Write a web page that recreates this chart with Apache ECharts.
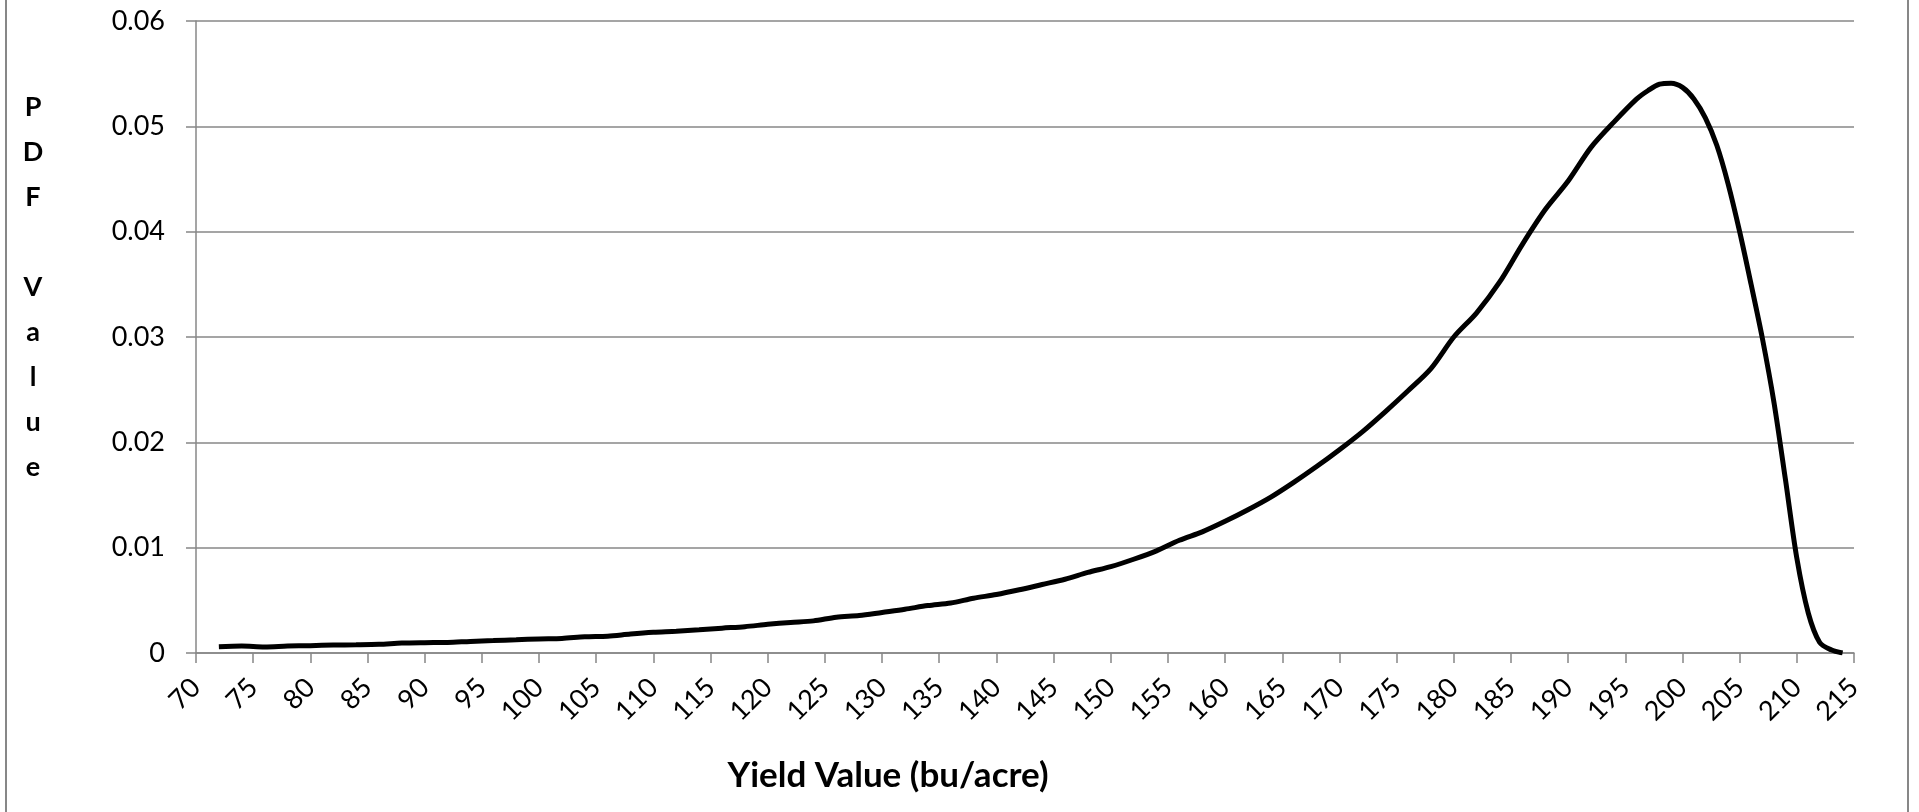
<!DOCTYPE html>
<html>
<head>
<meta charset="utf-8">
<script src="https://cdn.jsdelivr.net/npm/echarts@6/dist/echarts.min.js"></script>
<style>
html,body{margin:0;padding:0;background:#fff;}
#chart{width:1919px;height:812px;}
</style>
</head>
<body>
<div id="chart"></div>
<script>
// Yield values (bu/acre) and estimated PDF values
const yieldValues = [72,74,76,78,80,82,84,86,88,90,92,94,96,98,100,102,104,106,108,110,112,114,116,118,120,122,124,126,128,130,132,134,136,138,140,142,144,146,148,150,152,154,156,158,160,162,164,166,168,170,172,174,176,178,180,182,184,186,188,190,192,194,196,197,198,199,200,201,202,203,204,205,206,207,208,209,210,211,212,213,214];
const pdfValues = [0.00060,0.00066,0.00058,0.00066,0.00070,0.00076,0.00078,0.00082,0.00094,0.00098,0.00100,0.00110,0.00118,0.00126,0.00134,0.00138,0.00154,0.00160,0.00180,0.00196,0.00206,0.00220,0.00236,0.00250,0.00272,0.00290,0.00305,0.00340,0.00355,0.00385,0.00415,0.00450,0.00475,0.00520,0.00555,0.00600,0.00650,0.00700,0.00765,0.00820,0.00890,0.00970,0.01070,0.01150,0.01250,0.01360,0.01480,0.01620,0.01770,0.01930,0.02100,0.02290,0.02490,0.02700,0.03000,0.03230,0.03520,0.03880,0.04210,0.04480,0.04800,0.05040,0.05260,0.05340,0.05400,0.05410,0.05370,0.05260,0.05080,0.04820,0.04450,0.04000,0.03500,0.02980,0.02380,0.01650,0.00900,0.00380,0.00100,0.00030,0.00000];
const xTicks = {min: 70, max: 215, interval: 5};
const yTicks = {min: 0, max: 0.06, interval: 0.01};
const xTitle = 'Yield Value (bu/acre)';
const yTitle = 'P\nD\nF\n\nV\na\nl\nu\ne';

const seriesData = yieldValues.map((x, i) => [x, pdfValues[i]]);
const gray = '#878787';
const font = 'Lato, "Open Sans", sans-serif';

const chart = echarts.init(document.getElementById('chart'));
chart.setOption({
  animation: false,
  backgroundColor: '#fff',
  grid: {left: 196, right: 65, top: 21, bottom: 159, containLabel: false},
  xAxis: {
    type: 'value',
    min: xTicks.min, max: xTicks.max, interval: xTicks.interval,
    axisLine: {show: true, lineStyle: {color: gray, width: 1.5}},
    axisTick: {show: true, length: 10, lineStyle: {color: gray, width: 1.5}},
    splitLine: {show: false},
    axisLabel: {rotate: 45, margin: 30, color: '#000', fontSize: 27, fontFamily: font}
  },
  yAxis: {
    type: 'value',
    min: yTicks.min, max: yTicks.max, interval: yTicks.interval,
    axisLine: {show: true, lineStyle: {color: gray, width: 1.5}},
    axisTick: {show: true, length: 10, lineStyle: {color: gray, width: 1.5}},
    splitLine: {show: true, lineStyle: {color: gray, width: 1.5}},
    axisLabel: {margin: 31, color: '#000', fontSize: 27, fontFamily: font,
      formatter: v => v === 0 ? '0' : v.toFixed(2)}
  },
  graphic: [
    {type: 'rect', shape: {x: 6, y: -10, width: 1902, height: 832}, style: {fill: null, stroke: gray, lineWidth: 2}, silent: true},
    {type: 'text', x: 33, y: 85, style: {text: yTitle, font: 'bold 27px ' + font, fill: '#000', textAlign: 'center', textVerticalAlign: 'top', lineHeight: 45}},
    {type: 'text', x: 888, y: 776, style: {text: xTitle, font: 'bold 35px ' + font, fill: '#000', textAlign: 'center', textVerticalAlign: 'middle'}}
  ],
  series: [{
    type: 'line',
    data: seriesData,
    smooth: 0.3,
    showSymbol: false,
    lineStyle: {color: '#000', width: 5},
    itemStyle: {color: '#000'}
  }]
});
</script>
</body>
</html>
